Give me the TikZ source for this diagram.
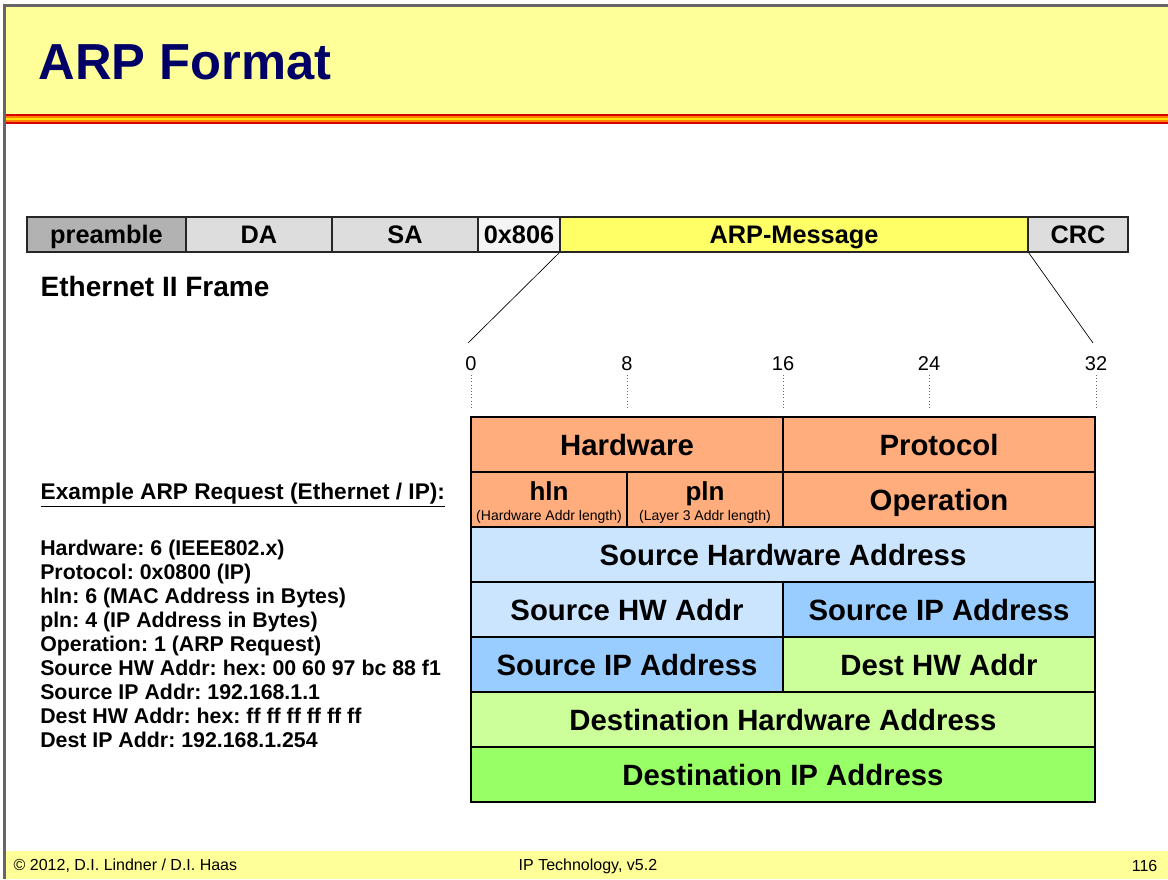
\documentclass[tikz,border=0pt]{standalone}
\usepackage{fontspec}
\setmainfont{Liberation Sans}
\usetikzlibrary{positioning}
\definecolor{hdryel}{HTML}{FFFF99}
\definecolor{arpyel}{HTML}{FFFF66}
\definecolor{navy}{HTML}{000066}
\definecolor{frame}{HTML}{666666}
\definecolor{fgray}{HTML}{B2B2B2}
\definecolor{lgray}{HTML}{DDDDDD}
\definecolor{wgray}{HTML}{F4F4F4}
\definecolor{fldor}{HTML}{FFAD7D}
\definecolor{pblue}{HTML}{CCE5FF}
\definecolor{mblue}{HTML}{99CCFF}
\definecolor{pgreen}{HTML}{CCFF99}
\definecolor{bgreen}{HTML}{99FF66}
\begin{document}
\frenchspacing
\begin{tikzpicture}[x=.75pt,y=-.75pt,
  frm/.style={draw=black!85,line width=.9pt,inner sep=0pt,minimum height=26.25pt,text height=13.6pt,text depth=0pt,font=\bfseries\fontsize{19}{22}\selectfont},
  cell/.style={draw=black,line width=.9pt,inner sep=0pt,minimum height=41.25pt,text height=15.75pt,text depth=0pt,font=\bfseries\fontsize{22}{26}\selectfont},
  sub/.style={inner sep=0pt,text height=7.5pt,text depth=0pt,font=\fontsize{10.5}{12}\selectfont}]
\useasboundingbox (0,0) rectangle (1168,879);
\fill[white] (0,0) rectangle (1168,879);
\fill[hdryel] (6,7) rectangle (1168,114);
\foreach \a/\b/\c in {114/116/red!85!black,116/118/orange,118/120/yellow!85!orange,120/122/orange,122/124/red!85!black}{\fill[\c] (6,\a) rectangle (1168,\b);}
\fill[hdryel] (6,851) rectangle (1168,879);
\fill[frame] (3,4) rectangle (6,879);\fill[frame] (3,4) rectangle (1168,7);
\node[anchor=west,text=navy,font=\bfseries\fontsize{38}{44}\selectfont] (title) at (34,62) {ARP Format};
\foreach \n/\x/\w/\c/\t in {pre/27/159/fgray/preamble,da/186/146/lgray/DA,sa/332/146/lgray/SA,typ/478/82/wgray/0x806,arp/560/468/arpyel/ARP-Message,crc/1028/100/lgray/CRC}{\node[frm,fill=\c,minimum width=\w*.75pt] (\n) at (\x+\w/2,234.5) {\t};}
\node[anchor=west,font=\bfseries\fontsize{21}{25}\selectfont] (eth) at (36,286) {Ethernet II Frame};
\coordinate (l0) at (468,343);\coordinate (l32) at (1093,343);
\draw[line width=.5pt] (arp.south west) -- (l0);\draw[line width=.5pt] (arp.south east) -- (l32);
\foreach \b/\p in {0/471,8/627,16/783,24/929,32/1096}{\node[font=\fontsize{15}{18}\selectfont] (b\b) at (\p,364) {\b};\draw[dotted,black!60] (\p,375) -- (\p,408);}
\foreach \n/\x/\y/\w/\c/\t in {hw/471/417/312/fldor/Hardware,pr/783/417/312/fldor/Protocol,op/783/472/312/fldor/Operation,sha/471/527/624/pblue/Source Hardware Address,shw/471/582/312/pblue/Source HW Addr,sip/783/582/312/mblue/Source IP Address,sipb/471/637/312/mblue/Source IP Address,dhw/783/637/312/pgreen/Dest HW Addr,dha/471/692/624/pgreen/Destination Hardware Address,dip/471/747/624/bgreen/Destination IP Address}{\node[cell,fill=\c,minimum width=\w*.75pt] (\n) at (\x+\w/2,\y+27.5) {\t};}
\foreach \n/\x/\t/\s in {hln/549/hln/(Hardware Addr length),pln/705/pln/(Layer 3 Addr length)}{
  \node[cell,fill=fldor,minimum width=117pt] (\n) at (\x,499.5) {};
  \node[cell,draw=none,text height=14pt,font=\bfseries\fontsize{19.5}{22}\selectfont] (\n t) at (\x,491) {\t};
  \node[sub] (\n s) at (\x,515) {\s};}
\node[anchor=west,font=\bfseries\fontsize{17}{20}\selectfont] (exhd) at (36,495) {\underline{Example ARP Request (Ethernet / IP):}};
\node[anchor=north west,align=left,inner sep=0pt,font=\bfseries\fontsize{16}{18}\selectfont] (exls) at (40,540) {Hardware: 6 (IEEE802.x)\\Protocol: 0x0800 (IP)\\hln: 6 (MAC Address in Bytes)\\pln: 4 (IP Address in Bytes)\\Operation: 1 (ARP Request)\\Source HW Addr: hex: 00 60 97 bc 88 f1\\Source IP Addr: 192.168.1.1\\Dest HW Addr: hex: ff ff ff ff ff ff\\Dest IP Addr: 192.168.1.254};
\node[anchor=west,font=\fontsize{12}{14}\selectfont] (copy) at (9,866) {© 2012, D.I. Lindner / D.I. Haas};
\node[anchor=west,font=\fontsize{12}{14}\selectfont] (ver) at (514,866) {IP Technology, v5.2};
\node[anchor=east,font=\fontsize{12}{14}\selectfont] (pg) at (1162,866) {116};
\end{tikzpicture}
\end{document}
